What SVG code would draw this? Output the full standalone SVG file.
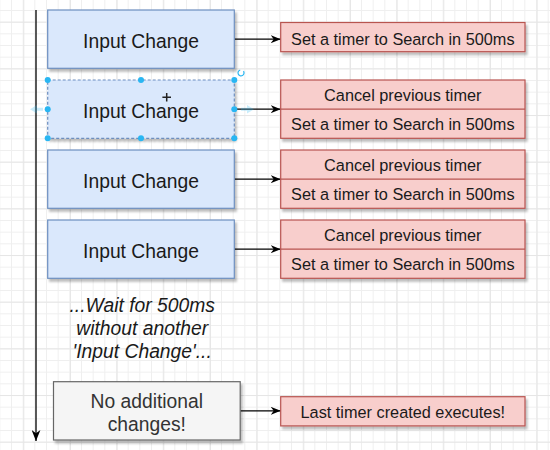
<svg xmlns="http://www.w3.org/2000/svg" width="550" height="450" viewBox="0 0 550 450">
<defs>
<pattern id="gmin" patternUnits="userSpaceOnUse" x="11" y="10" width="11.667" height="11.667">
<path d="M0,0.5 H11.667 M0.5,0 V11.667" fill="none" stroke="#efefef" stroke-width="1"/>
</pattern>
<pattern id="gmaj" patternUnits="userSpaceOnUse" x="23.3" y="21.7" width="46.667" height="46.667">
<path d="M0,0.5 H46.667 M0.5,0 V46.667" fill="none" stroke="#e6e6e6" stroke-width="1"/>
</pattern>
<filter id="sh" x="-10%" y="-10%" width="130%" height="140%">
<feDropShadow dx="2" dy="3" stdDeviation="1.2" flood-color="#000" flood-opacity="0.25"/>
</filter>
<marker id="arr" viewBox="0 0 10 8" refX="10" refY="4" markerWidth="10" markerHeight="8" markerUnits="userSpaceOnUse" orient="auto">
<path d="M0,0 L10,4 L0,8 L3,4 Z" fill="#000"/>
</marker>
<marker id="arrv" viewBox="0 0 10 8" refX="10" refY="4" markerWidth="11" markerHeight="9" markerUnits="userSpaceOnUse" orient="auto">
<path d="M0,0 L10,4 L0,8 L3,4 Z" fill="#000"/>
</marker>
</defs>
<style>
.blue{fill:#dae8fc;stroke:#6c8ebf;stroke-width:1.2}
.red{fill:#f8cecc;stroke:#b85450;stroke-width:1.2}
.gray{fill:#f5f5f5;stroke:#666666;stroke-width:1.2}
.t{font-family:"Liberation Sans",Arial,sans-serif;text-anchor:middle;fill:#1a1a1a}
.big{font-size:19.3px}
.small{font-size:16.3px}
.it{font-style:italic}
.conn{stroke:#000;stroke-width:1.3;fill:none}
.h{fill:#29b6f2}
</style>
<rect width="550" height="450" fill="#ffffff"/>
<rect width="550" height="450" fill="url(#gmin)"/>
<rect width="550" height="450" fill="url(#gmaj)"/>

<g id="connectors">
<line class="conn" x1="36" y1="10" x2="36" y2="441" stroke-width="2" marker-end="url(#arrv)"/>
<line class="conn" x1="234.3" y1="39.2" x2="280.7" y2="39.2" marker-end="url(#arr)"/>
<line class="conn" x1="234.3" y1="109.2" x2="280.7" y2="109.2" marker-end="url(#arr)"/>
<line class="conn" x1="234.3" y1="179.2" x2="280.7" y2="179.2" marker-end="url(#arr)"/>
<line class="conn" x1="234.3" y1="249.2" x2="280.7" y2="249.2" marker-end="url(#arr)"/>
<line class="conn" x1="240.2" y1="410.8" x2="280.7" y2="410.8" marker-end="url(#arr)"/>
</g>

<g id="input1">
<rect class="blue" x="47.7" y="10" width="186.6" height="58.3" filter="url(#sh)"/>
<text class="t big" x="141" y="47.5">Input Change</text>
</g>
<g id="input2">
<rect class="blue" x="47.7" y="80" width="186.6" height="58.3" filter="url(#sh)" stroke-dasharray="3 2" stroke="#7f97b8" stroke-width="1"/>
<text class="t big" x="141" y="117.5">Input Change</text>
</g>
<g id="input3">
<rect class="blue" x="47.7" y="150" width="186.6" height="58.3" filter="url(#sh)"/>
<text class="t big" x="141" y="187.5">Input Change</text>
</g>
<g id="input4">
<rect class="blue" x="47.7" y="220" width="186.6" height="58.3" filter="url(#sh)"/>
<text class="t big" x="141" y="257.5">Input Change</text>
</g>

<g id="selection">
<circle class="h" cx="47.7" cy="80" r="3"/>
<circle class="h" cx="141" cy="80" r="3"/>
<circle class="h" cx="234.3" cy="80" r="3"/>
<circle class="h" cx="47.7" cy="109.2" r="3"/>
<circle class="h" cx="234.3" cy="109.2" r="3"/>
<circle class="h" cx="47.7" cy="138.3" r="3"/>
<circle class="h" cx="141" cy="138.3" r="3"/>
<circle class="h" cx="234.3" cy="138.3" r="3"/>
<path d="M243.5,71.2 A3,3 0 1 1 240.2,70" fill="none" stroke="#29b6f2" stroke-width="1.2"/>
<path d="M30,109.2 L37,105 L37,107.7 L43,107.7 L43,110.7 L37,110.7 L37,113.4 Z" fill="#29b6f2" opacity="0.25"/>
<path d="M254,109.2 L247,105 L247,107.7 L241,107.7 L241,110.7 L247,110.7 L247,113.4 Z" fill="#29b6f2" opacity="0.25"/>
<path d="M166.7,93 V101.6 M162.4,97.3 H171" stroke="#222" stroke-width="1.5"/>
</g>

<g id="timer1">
<rect class="red" x="280.7" y="22.5" width="244.3" height="29.2" filter="url(#sh)"/>
<text class="t small" x="402.8" y="45">Set a timer to Search in 500ms</text>
</g>
<g id="timer2">
<rect class="red" x="280.7" y="80" width="244.3" height="58.3" filter="url(#sh)"/>
<line x1="280.7" y1="109.2" x2="525" y2="109.2" stroke="#b85450" stroke-width="1.2"/>
<text class="t small" x="402.8" y="101">Cancel previous timer</text>
<text class="t small" x="402.8" y="130.2">Set a timer to Search in 500ms</text>
</g>
<g id="timer3">
<rect class="red" x="280.7" y="150" width="244.3" height="58.3" filter="url(#sh)"/>
<line x1="280.7" y1="179.2" x2="525" y2="179.2" stroke="#b85450" stroke-width="1.2"/>
<text class="t small" x="402.8" y="171">Cancel previous timer</text>
<text class="t small" x="402.8" y="200.2">Set a timer to Search in 500ms</text>
</g>
<g id="timer4">
<rect class="red" x="280.7" y="220" width="244.3" height="58.3" filter="url(#sh)"/>
<line x1="280.7" y1="249.2" x2="525" y2="249.2" stroke="#b85450" stroke-width="1.2"/>
<text class="t small" x="402.8" y="241">Cancel previous timer</text>
<text class="t small" x="402.8" y="270.2">Set a timer to Search in 500ms</text>
</g>

<g id="wait">
<text class="t big it" x="142.2" y="312">...Wait for 500ms</text>
<text class="t big it" x="142.2" y="335">without another</text>
<text class="t big it" x="142.2" y="358">'Input Change'...</text>
</g>

<g id="nochanges">
<rect class="gray" x="53.5" y="381.7" width="186.7" height="58.3" filter="url(#sh)"/>
<text class="t big" x="146.8" y="407.7" fill="#333333" style="fill:#333333">No additional</text>
<text class="t big" x="146.8" y="430.5" style="fill:#333333">changes!</text>
</g>
<g id="last">
<rect class="red" x="280.7" y="396.7" width="244.3" height="29.2" filter="url(#sh)"/>
<text class="t small" x="402.8" y="417.5">Last timer created executes!</text>
</g>
</svg>
